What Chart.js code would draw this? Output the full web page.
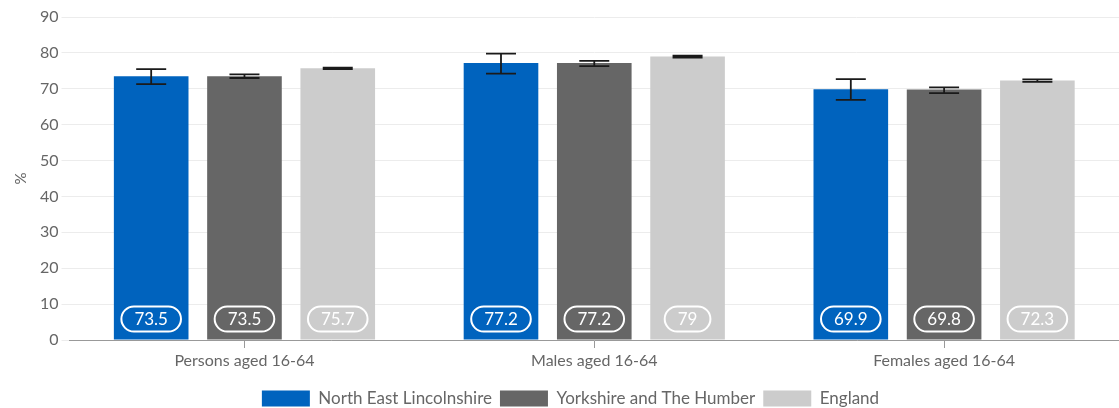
<!DOCTYPE html>
<html>
<head>
<meta charset="utf-8">
<script src="https://cdn.jsdelivr.net/npm/chart.js@4"></script>
<style>
    html, body { margin: 0; padding: 0; background: #fff; }
    #wrap { width: 1119px; height: 408px; }
</style>
</head>
<body>
<div id="wrap"><canvas id="employmentChart"></canvas></div>
<script>
const categories = ['Persons aged 16-64', 'Males aged 16-64', 'Females aged 16-64'];
const seriesNames = ['North East Lincolnshire', 'Yorkshire and The Humber', 'England'];
const neLincs = [73.5, 77.2, 69.9];
const yorkshire = [73.5, 77.2, 69.8];
const england = [75.7, 79, 72.3];
// confidence intervals [low, high]
const neLincsCI = [[71.3, 75.5], [74.2, 79.8], [66.9, 72.7]];
const yorkshireCI = [[73.0, 74.0], [76.3, 77.8], [68.8, 70.4]];
const englandCI = [[75.5, 75.9], [78.7, 79.2], [71.9, 72.6]];
const yTicks = [0, 10, 20, 30, 40, 50, 60, 70, 80, 90];

const colors = ['#0063be', '#666666', '#cccccc'];
const ciData = [neLincsCI, yorkshireCI, englandCI];

const errorBars = {
    id: 'errorBars',
    afterDatasetsDraw(chart) {
        const ctx = chart.ctx;
        const y = chart.scales.y;
        ctx.save();
        ctx.strokeStyle = '#1a1a1a';
        ctx.lineWidth = 1.8;
        chart.data.datasets.forEach((ds, i) => {
            const meta = chart.getDatasetMeta(i);
            meta.data.forEach((bar, j) => {
                const lo = y.getPixelForValue(ciData[i][j][0]);
                const hi = y.getPixelForValue(ciData[i][j][1]);
                ctx.beginPath();
                ctx.moveTo(bar.x, lo); ctx.lineTo(bar.x, hi);
                ctx.moveTo(bar.x - 15, lo); ctx.lineTo(bar.x + 15, lo);
                ctx.moveTo(bar.x - 15, hi); ctx.lineTo(bar.x + 15, hi);
                ctx.stroke();
            });
        });
        ctx.restore();
    }
};

const pillLabels = {
    id: 'pillLabels',
    afterDatasetsDraw(chart) {
        const ctx = chart.ctx;
        const y = chart.scales.y;
        const cy = y.getPixelForValue(0) - 21;
        ctx.save();
        ctx.font = '17px Lato';
        ctx.textAlign = 'center';
        ctx.textBaseline = 'middle';
        chart.data.datasets.forEach((ds, i) => {
            const meta = chart.getDatasetMeta(i);
            meta.data.forEach((bar, j) => {
                const txt = String(ds.data[j]);
                const w = ctx.measureText(txt).width + 26;
                const h = 25;
                ctx.beginPath();
                ctx.roundRect(bar.x - w / 2, cy - h / 2, w, h, h / 2);
                ctx.strokeStyle = '#ffffff';
                ctx.lineWidth = 2;
                ctx.stroke();
                ctx.fillStyle = '#ffffff';
                ctx.fillText(txt, bar.x, cy + 1);
            });
        });
        ctx.restore();
    }
};

const ctx = document.getElementById('employmentChart').getContext('2d');
new Chart(ctx, {
    type: 'bar',
    data: {
        labels: categories,
        datasets: [
            { label: seriesNames[0], data: neLincs, backgroundColor: colors[0] },
            { label: seriesNames[1], data: yorkshire, backgroundColor: colors[1] },
            { label: seriesNames[2], data: england, backgroundColor: colors[2] }
        ]
    },
    options: {
        responsive: true,
        maintainAspectRatio: false,
        animation: false,
        barPercentage: 0.8,
        categoryPercentage: 0.8,
        layout: { padding: { top: 17, right: -12, left: 10, bottom: -9 } },
        scales: {
            x: {
                grid: { display: true, drawOnChartArea: false, offset: false, tickLength: 8, color: '#999' },
                border: { color: '#999' },
                ticks: { color: '#666', font: { family: 'Lato', size: 16 }, padding: 3 },
                afterFit: (scale) => { scale.height = 42; }
            },
            y: {
                min: 0,
                max: 90,
                afterBuildTicks: (axis) => { axis.ticks = yTicks.map(v => ({ value: v })); },
                grid: { color: '#ececec', tickLength: 8 },
                border: { display: false },
                ticks: { color: '#666', font: { family: 'Lato', size: 16 }, padding: 3 },
                title: { display: true, text: '%', color: '#666', font: { family: 'Lato', size: 15 }, padding: { top: 2, bottom: 7 } }
            }
        },
        plugins: {
            legend: {
                position: 'bottom',
                labels: {
                    boxWidth: 48,
                    boxHeight: 16,
                    color: '#666',
                    font: { family: 'Lato', size: 17 },
                    padding: 8
                }
            },
            tooltip: { enabled: false }
        }
    },
    plugins: [errorBars, pillLabels]
});
</script>
</body>
</html>
